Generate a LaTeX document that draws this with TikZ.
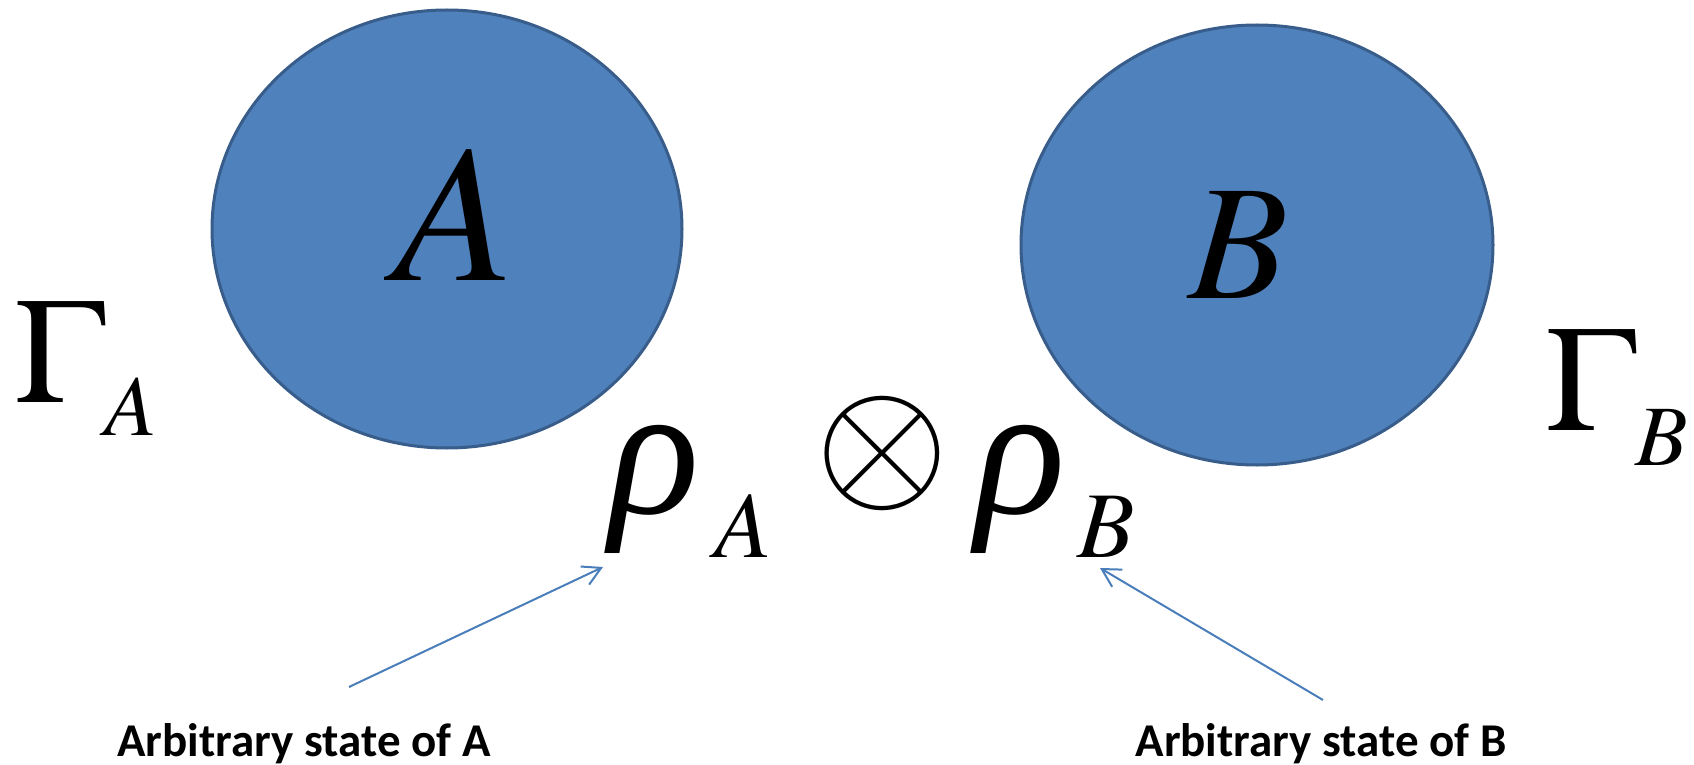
\documentclass[tikz,border=0pt]{standalone}
\usepackage{mathptmx}
\usepackage[no-math]{fontspec}
\newfontfamily\notefont{Carlito}
\newfontfamily\serifit{Liberation Serif}
\usetikzlibrary{shapes.geometric,arrows.meta,calc}

% script sizes for the large formulas
\DeclareMathSizes{75}{75}{43}{30}
\DeclareMathSizes{94}{94}{47}{33}

\definecolor{sysfill}{HTML}{4F81BD}
\definecolor{sysline}{HTML}{385D8A}
\definecolor{ptrline}{HTML}{4A7EBB}
\newcommand\fsz[1]{\fontsize{#1}{#1}\selectfont}
\newcommand\rhoit{\mbox{\serifit\itshape ρ}}
% subscript pushed down by #2, with an extra gap #1 in front
\newcommand\dsub[3][0pt]{_{\raisebox{-#2}{\hspace{#1}$\scriptstyle #3$}}}

\begin{document}
\begin{tikzpicture}[%
    x=0.5pt, y=-0.5pt,          % one unit per pixel, y axis pointing down
    >={Straight Barb[length=9pt,width=10pt]}, % open arrow heads
    ]
% -------------------------------------------------
% Styles
\tikzset{
  system/.style={ellipse, draw=sysline, line width=1.5pt, fill=sysfill, inner sep=0pt},
  big/.style={inner sep=0pt, anchor=base},
  note/.style={inner sep=0pt, anchor=base, font=\notefont\bfseries\fsz{23.5}},
  ptr/.style={->, draw=ptrline, line width=1pt},
}
\useasboundingbox (0,0) rectangle (1694,765);
% -------------------------------------------------
% The two subsystems
\node [system, minimum width=235pt, minimum height=219pt] (sysA) at (447,229) {};
\node [system, minimum width=236pt, minimum height=220pt] (sysB) at (1257,245) {};
\node [big, font=\fsz{98}] (nameA) at (454,280) {$A$};
\node [big, font=\fsz{82}] (nameB) at (1239,299) {$B$};

% Their phase spaces
\node [big, anchor=base west, font=\fsz{75}] (gamA) at (14,402) {$\Gamma\dsub{5.5pt}{A}$};
\node [big, anchor=base west, font=\fsz{75}] (gamB) at (1545,430) {$\Gamma\dsub{6.5pt}{B}$};

% The product state
\node [big, anchor=base west, font=\fsz{94}] (rhoA) at (609,513) {$\rhoit\dsub[7.5pt]{0pt}{A}$};
\node [big, font=\fsz{86}] (prod) at (882,496) {$\otimes$};
\node [big, anchor=base west, font=\fsz{94}] (rhoB) at (975,513) {$\rhoit\dsub[6pt]{0pt}{B}$};

% -------------------------------------------------
% Notes pointing at the factors
\node [note] (noteA) at (304,756) {Arbitrary state of A};
\node [note] (noteB) at (1321,756) {Arbitrary state of B};

\draw [ptr] ($(noteA.base)+(45,-69)$) -- ($(rhoA.base west)+(-6,54)$);
\draw [ptr] ($(noteB.base)+(2,-56)$) -- ($(rhoB.base west)+(125,55)$);
% -------------------------------------------------
\end{tikzpicture}
\end{document}
